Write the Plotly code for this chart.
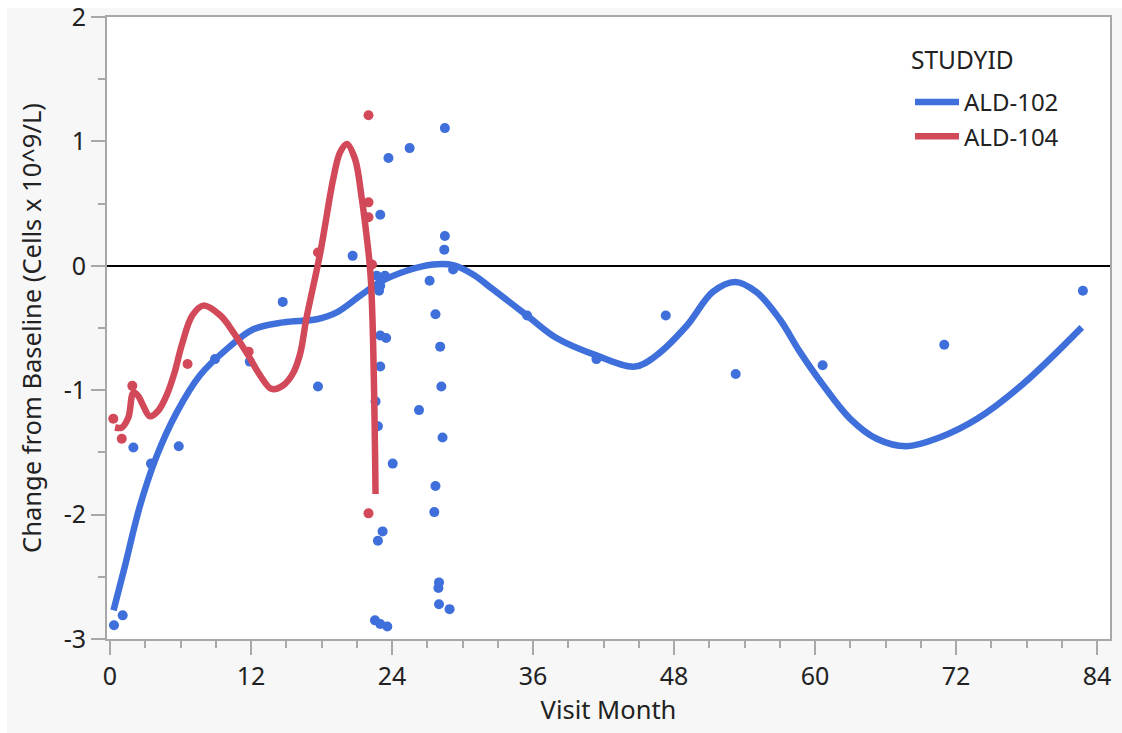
import plotly.graph_objects as go

# Observed changes from baseline, by study
ald102_month = [0.34, 1.08, 1.99, 3.49, 5.85, 8.94, 11.9, 14.7, 17.7, 20.65,
                22.55, 23.0, 23.6, 22.8, 23.2, 22.6, 22.8, 24.06, 23.0, 23.0,
                23.5, 23.0, 23.7, 22.7, 23.4, 23.0, 22.9, 25.5, 28.5, 28.5,
                28.45, 27.2, 29.2, 27.7, 28.1, 28.2, 26.3, 28.3, 27.7, 27.6,
                28.0, 27.95, 28.0, 28.9, 35.5, 41.4, 47.3, 53.25, 60.65, 71.0,
                82.8]
ald102_change = [-2.89, -2.81, -1.46, -1.59, -1.45, -0.75, -0.77, -0.29, -0.97, 0.08,
                 -2.85, -2.88, -2.90, -2.21, -2.135, -1.09, -1.29, -1.59, -0.81, -0.56,
                 -0.58, 0.41, 0.866, -0.08, -0.08, -0.16, -0.20, 0.946, 1.107, 0.24,
                 0.13, -0.12, -0.03, -0.39, -0.65, -0.97, -1.16, -1.38, -1.77, -1.98,
                 -2.545, -2.59, -2.72, -2.76, -0.40, -0.75, -0.40, -0.87, -0.80, -0.635,
                 -0.20]

ald104_month = [0.28, 1.0, 1.9, 6.6, 11.8, 17.7, 22.0, 22.0, 22.0, 22.3, 22.0]
ald104_change = [-1.23, -1.39, -0.965, -0.79, -0.69, 0.107, 1.21, 0.51, 0.39, 0.01, -1.99]

# Smoothed fit per study
fit102_month = [0.3, 1.28, 2.55, 3.97, 5.67, 7.66, 9.93, 12.2, 14.75, 17.6,
                19.3, 21.3, 23.0, 25.25, 27.5, 29.2, 30.9, 32.6, 35.5, 38.0,
                41.4, 44.7, 46.5, 49.1, 51.3, 53.2, 55.0, 57.0, 58.7, 60.7,
                63.0, 65.25, 67.8, 70.6, 73.8, 77.7, 82.7]
fit102_change = [-2.77, -2.41, -1.93, -1.53, -1.18, -0.88, -0.67, -0.51, -0.455, -0.43,
                 -0.375, -0.24, -0.13, -0.04, 0.01, 0.005, -0.07, -0.19, -0.40, -0.58,
                 -0.72, -0.81, -0.72, -0.48, -0.21, -0.13, -0.21, -0.43, -0.69, -0.96,
                 -1.23, -1.39, -1.45, -1.38, -1.23, -0.95, -0.495]

fit104_month = [0.43, 1.0, 1.56, 1.99, 2.4, 2.83, 3.4, 4.1, 4.8, 5.5,
                6.1, 7.0, 7.94, 9.4, 10.5, 11.77, 12.77, 13.76, 14.75, 15.6,
                16.2, 16.7, 17.9, 19.0, 19.57, 20.15, 20.85, 21.4, 21.8, 22.2,
                22.6]
fit104_change = [-1.30, -1.30, -1.22, -1.02, -1.045, -1.125, -1.21, -1.165, -1.045, -0.857,
                 -0.64, -0.40, -0.32, -0.40, -0.535, -0.72, -0.88, -0.99, -0.96, -0.86,
                 -0.70, -0.43, 0.107, 0.70, 0.91, 0.98, 0.86, 0.56, 0.27, -0.11,
                 -1.835]

x_ticks = [0, 12, 24, 36, 48, 60, 72, 84]
y_ticks = [-3, -2, -1, 0, 1, 2]

BLUE = "#3F6FDB"
RED = "#D2495A"
FONT = "Noto Sans"
TEXT = "#222222"
AXIS_GRAY = "#A8A8A8"

fig = go.Figure()

fig.add_trace(go.Scatter(x=ald102_month, y=ald102_change, mode="markers",
                         marker=dict(color=BLUE, size=10), showlegend=False))
fig.add_trace(go.Scatter(x=ald104_month, y=ald104_change, mode="markers",
                         marker=dict(color=RED, size=10), showlegend=False))
fig.add_trace(go.Scatter(x=fit102_month, y=fit102_change, mode="lines",
                         line=dict(color=BLUE, width=6.5, shape="spline", smoothing=1.0),
                         name="ALD-102"))
fig.add_trace(go.Scatter(x=fit104_month, y=fit104_change, mode="lines",
                         line=dict(color=RED, width=6.5, shape="spline", smoothing=1.0),
                         name="ALD-104"))

W, H = 1122, 733
L, R, T, B = 107, 12, 17, 94
pw, ph = W - L - R, H - T - B


def px_x(px):
    return (px - L) / pw


def px_y(py):
    return (H - B - py) / ph


# white strips along the left and top edges of the grey canvas
shapes = [
    dict(type="rect", xref="paper", yref="paper", x0=px_x(0), x1=px_x(7),
         y0=px_y(H), y1=px_y(0), fillcolor="white", line=dict(width=0), layer="below"),
    dict(type="rect", xref="paper", yref="paper", x0=px_x(0), x1=px_x(W),
         y0=px_y(8), y1=px_y(0), fillcolor="white", line=dict(width=0), layer="below"),
]

# legend heading
annotations = [
    dict(text="STUDYID", xref="paper", yref="paper", x=px_x(909), y=px_y(60),
         xanchor="left", yanchor="middle", showarrow=False,
         font=dict(family=FONT, size=24.5, color=TEXT)),
]

fig.update_layout(
    width=W, height=H,
    margin=dict(l=L, r=R, t=T, b=B, pad=0, autoexpand=False),
    paper_bgcolor="#F7F7F7",
    plot_bgcolor="white",
    font=dict(family=FONT, size=25, color=TEXT),
    shapes=shapes,
    annotations=annotations,
    showlegend=True,
    legend=dict(
        x=px_x(910), y=px_y(80), xanchor="left", yanchor="top",
        font=dict(family=FONT, size=24, color=TEXT),
        itemwidth=44,
        bgcolor="rgba(0,0,0,0)", tracegroupgap=0,
    ),
    xaxis=dict(
        range=[-0.255, 85.106], tickvals=x_ticks, ticktext=[str(v) for v in x_ticks],
        automargin=False, ticklabeloverflow="allow",
        showgrid=False, zeroline=False,
        showline=True, linecolor=AXIS_GRAY, linewidth=2, mirror=True,
        ticks="outside", ticklen=14, tickwidth=2, tickcolor=AXIS_GRAY,
        minor=dict(dtick=3, tick0=0, ticks="outside", ticklen=7, tickwidth=2,
                   tickcolor=AXIS_GRAY, showgrid=False),
        tickfont=dict(family=FONT, size=25, color=TEXT),
        title=dict(text="Visit Month", font=dict(family=FONT, size=25.5, color=TEXT),
                   standoff=9),
    ),
    yaxis=dict(
        range=[-3, 2], tickvals=y_ticks, ticktext=[str(v) for v in y_ticks],
        automargin=False, ticklabeloverflow="allow",
        showgrid=False,
        zeroline=True, zerolinecolor="black", zerolinewidth=1.5,
        showline=True, linecolor=AXIS_GRAY, linewidth=2, mirror=True,
        ticks="outside", ticklen=14, tickwidth=2, tickcolor=AXIS_GRAY,
        minor=dict(dtick=0.5, tick0=0, ticks="outside", ticklen=7, tickwidth=2,
                   tickcolor=AXIS_GRAY, showgrid=False),
        tickfont=dict(family=FONT, size=25, color=TEXT),
        title=dict(text="Change from Baseline (Cells x 10^9/L)",
                   font=dict(family=FONT, size=25.5, color=TEXT), standoff=15),
    ),
)

fig.write_html("out.html")
